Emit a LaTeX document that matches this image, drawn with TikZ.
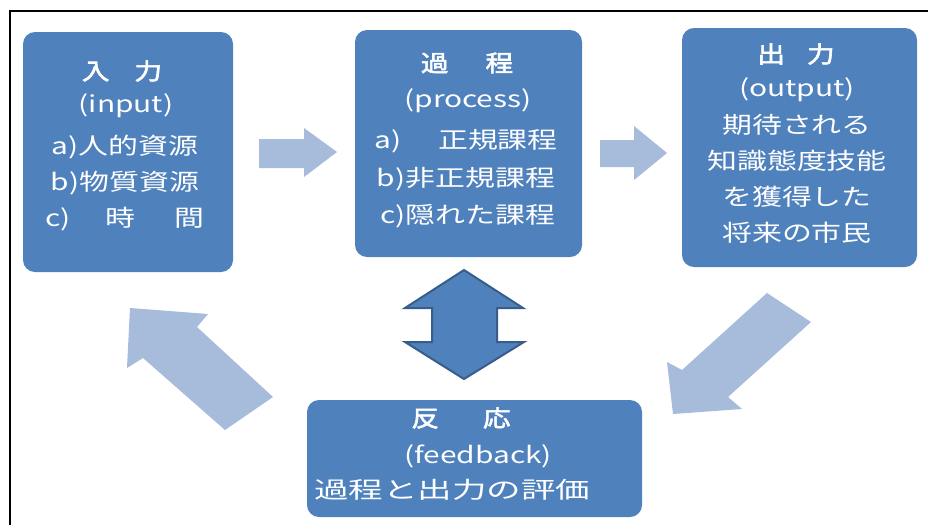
\documentclass[tikz,border=0pt]{standalone}
\usepackage{fontspec}
\newfontfamily\jp[FakeStretch=1.3]{Noto Sans CJK JP}
\newfontfamily\jpw[FakeStretch=1.5]{Noto Sans CJK JP}
\newfontfamily\jpb[FakeStretch=1.2,FakeBold=2.5]{Noto Sans CJK JP}
\definecolor{boxblue}{HTML}{4F81BD}
\definecolor{boxedge}{HTML}{385D8A}
\definecolor{lightarrow}{HTML}{A7BBDA}
\tikzset{
  box/.style={fill=boxblue, rounded corners=12pt, draw=none, inner sep=0pt},
  txt/.style={text=white, inner sep=0pt, anchor=center, font=\jp\fontsize{23}{23}\selectfont},
  ttl/.style={text=white, inner sep=0pt, anchor=center, font=\jpb\fontsize{23}{23}\selectfont},
  blockarrow/.style={fill=lightarrow, draw=none},
  dblarrow/.style={fill=boxblue, draw=boxedge, line width=2pt, line join=miter}
}
\begin{document}
\begin{tikzpicture}[x=1pt,y=-1pt]
\useasboundingbox (0,0) rectangle (928,525);
\fill[white] (0,0) rectangle (928,525);
% frame
\draw[line width=2pt] (10,525) -- (10,11) -- (928,11);

% boxes
\node[box, minimum width=210pt, minimum height=240pt] (inbox) at (128,152) {};
\node[box, minimum width=227pt, minimum height=227pt] (procbox) at (468.5,143.5) {};
\node[box, minimum width=235pt, minimum height=239pt] (outbox) at (799.5,147.5) {};
\node[box, minimum width=335pt, minimum height=117pt] (fbbox) at (474.5,458.5) {};

% input text
\node[ttl] (in1) at (122,71) {入\hspace{25pt}力};
\node[txt] (in2) at (126,106) {(input)};
\node[txt] (in3) at (125,147) {a)人的資源};
\node[txt] (in4) at (125,183) {b)物質資源};
\node[txt] (in5) at (125,219) {c)\hspace{35pt}時\hspace{39pt}間};

% process text
\node[ttl] (pr1) at (467,63) {過\hspace{37pt}程};
\node[txt] (pr2) at (468,101) {(process)};
\node[txt] (pr3) at (466,141) {a)\hspace{37pt}正規課程};
\node[txt] (pr4) at (466,179) {b)非正規課程};
\node[txt] (pr5) at (468,216) {c)隠れた課程};

% output text
\node[ttl] (ou1) at (796,54) {出\hspace{22pt}力};
\node[txt] (ou2) at (797,90) {(output)};
\node[txt] (ou3) at (797,125) {期待される};
\node[txt] (ou4) at (797,161) {知識態度技能};
\node[txt] (ou5) at (797,197) {を獲得した};
\node[txt] (ou6) at (797,233) {将来の市民};

% feedback text
\node[ttl] (fb1) at (461,418) {反\hspace{44pt}応};
\node[txt] (fb2) at (478,456) {(feedback)};
\node[txt, font=\jpw\fontsize{23}{23}\selectfont] (fb3) at (452,490) {過程と出力の評価};

% block arrows
\fill[blockarrow] (259,139) -- (304,139) -- (304,128) -- (337,152) -- (304,177) -- (304,168) -- (259,168) -- cycle;
\fill[blockarrow] (600,140) -- (634,140) -- (634,126) -- (667,153) -- (634,180) -- (634,167) -- (600,167) -- cycle;
\fill[blockarrow] (767,293) -- (811,322) -- (728,397) -- (742,409) -- (673,414) -- (667,362) -- (682,370) -- cycle;
\fill[blockarrow] (130,308) -- (208,314) -- (197,327) -- (273,397) -- (225,430) -- (143,358) -- (127,368) -- cycle;

% double arrow
\draw[dblarrow] (464,270) -- (523,308) -- (497,308) -- (497,342) -- (524,342) -- (464,379) -- (405,342) -- (432,342) -- (432,308) -- (405,308) -- cycle;
\end{tikzpicture}
\end{document}
